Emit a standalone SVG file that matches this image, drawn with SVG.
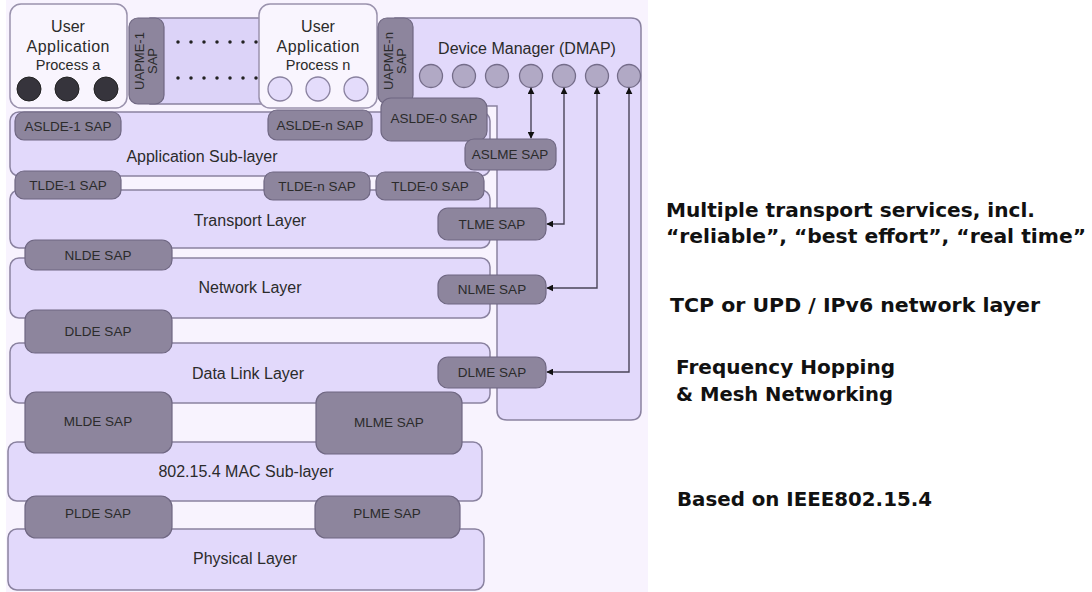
<svg xmlns="http://www.w3.org/2000/svg" width="1092" height="592" viewBox="0 0 1092 592">
<defs>
<style>
.layer{fill:#e2d9fb;stroke:#8a82a0;stroke-width:1.5}
.sap{fill:#8d859d;stroke:#6f6782;stroke-width:1.2}
.proc{fill:#f9f5fe;stroke:#9a92ad;stroke-width:1.5}
.t{font-family:"Liberation Sans",Arial,sans-serif;fill:#2b2b2b;text-anchor:middle}
.lt{font-size:16px}
.st{font-size:13.5px}
.pt{font-size:14.5px}
.rt{font-family:"DejaVu Sans",Verdana,sans-serif;font-weight:bold;font-size:19px;fill:#111}
.dot{stroke:#222;stroke-width:3.5;stroke-dasharray:0 13;stroke-linecap:round}
.conn{fill:none;stroke:#4a4458;stroke-width:1.4}
</style>
<marker id="ah" viewBox="0 0 10 10" refX="9" refY="5" markerWidth="7" markerHeight="7" markerUnits="userSpaceOnUse" orient="auto-start-reverse">
<path d="M0,0 L10,5 L0,10 Z" fill="#111"/>
</marker>
</defs>
<rect x="6" y="0" width="642" height="592" fill="#f8f3fe"/>
<rect x="0" y="0" width="6" height="592" fill="#ffffff"/>

<g id="device-manager">
<path class="layer" d="M395,18 H631 Q641,18 641,28 V410 Q641,420 631,420 H507 Q497,420 497,410 V106 H395 Z"/>
<text class="t lt" x="527" y="54">Device Manager (DMAP)</text>
<g fill="#b1a9c5" stroke="#756d8a" stroke-width="1.3">
<circle cx="431" cy="76" r="11.5"/><circle cx="464" cy="76" r="11.5"/><circle cx="497" cy="76" r="11.5"/><circle cx="531" cy="76" r="11.5"/><circle cx="564" cy="76" r="11.5"/><circle cx="597" cy="76" r="11.5"/><circle cx="629" cy="76" r="11.5"/>
</g>
</g>

<g id="uap-strip">
<rect x="150" y="18" width="120" height="86" fill="#dcd3f8" stroke="#8a82a0" stroke-width="1.5"/>
<line class="dot" x1="178" y1="42" x2="257" y2="42"/>
<line class="dot" x1="178" y1="78" x2="257" y2="78"/>
</g>

<g id="uap-a">
<rect class="proc" x="10" y="4" width="117" height="104" rx="11"/>
<text class="t lt" x="68" y="32">User</text>
<text class="t lt" x="68" y="52" textLength="83">Application</text>
<text class="t pt" x="68" y="70">Process a</text>
<g fill="#36343c" stroke="#222" stroke-width="1"><circle cx="29" cy="89" r="12"/><circle cx="67" cy="89" r="12"/><circle cx="106" cy="89" r="12"/></g>
</g>
<g id="uapme-1">
<rect class="sap" x="129" y="18" width="35" height="86" rx="9"/>
<text class="t" font-size="13" transform="translate(144,61) rotate(-90)">UAPME-1</text>
<text class="t" font-size="13" transform="translate(157,61) rotate(-90)">SAP</text>
</g>
<g id="uap-n">
<rect class="proc" x="259" y="4" width="118" height="104" rx="11"/>
<text class="t lt" x="318" y="32">User</text>
<text class="t lt" x="318" y="52" textLength="83">Application</text>
<text class="t pt" x="318" y="70">Process n</text>
<g fill="#e4dcfb" stroke="#8a82a0" stroke-width="1.3"><circle cx="280" cy="89" r="12"/><circle cx="318" cy="89" r="12"/><circle cx="356" cy="89" r="12"/></g>
</g>
<g id="uapme-n">
<rect class="sap" x="378" y="18" width="35" height="86" rx="9"/>
<text class="t" font-size="13" transform="translate(393,61) rotate(-90)">UAPME-n</text>
<text class="t" font-size="13" transform="translate(406,61) rotate(-90)">SAP</text>
</g>

<g id="app-sublayer">
<rect class="layer" x="10" y="112" width="480" height="64" rx="9"/>
<text class="t lt" x="202" y="162">Application Sub-layer</text>
</g>
<g id="aslde-1"><rect class="sap" x="15" y="112" width="106" height="28" rx="9"/><text class="t st" x="68" y="131">ASLDE-1 SAP</text></g>
<g id="aslde-n"><rect class="sap" x="268" y="110" width="104" height="30" rx="9"/><text class="t st" x="320" y="130">ASLDE-n SAP</text></g>
<g id="aslde-0"><rect class="sap" x="381" y="98" width="106" height="43" rx="10"/><text class="t st" x="434" y="123">ASLDE-0 SAP</text></g>
<g id="aslme"><rect class="sap" x="465" y="139" width="91" height="31" rx="9"/><text class="t st" x="510" y="159">ASLME SAP</text></g>

<g id="transport-layer">
<rect class="layer" x="10" y="190" width="480" height="58" rx="9"/>
<text class="t lt" x="250" y="226">Transport Layer</text>
</g>
<g id="tlde-1"><rect class="sap" x="15" y="171" width="106" height="28" rx="9"/><text class="t st" x="68" y="190">TLDE-1 SAP</text></g>
<g id="tlde-n"><rect class="sap" x="264" y="172" width="106" height="28" rx="9"/><text class="t st" x="317" y="191">TLDE-n SAP</text></g>
<g id="tlde-0"><rect class="sap" x="376" y="172" width="108" height="28" rx="9"/><text class="t st" x="430" y="191">TLDE-0 SAP</text></g>
<g id="tlme"><rect class="sap" x="438" y="208" width="108" height="32" rx="10"/><text class="t st" x="492" y="229">TLME SAP</text></g>

<g id="network-layer">
<rect class="layer" x="10" y="258" width="480" height="60" rx="9"/>
<text class="t lt" x="250" y="293">Network Layer</text>
</g>
<g id="nlde"><rect class="sap" x="25" y="240" width="147" height="30" rx="10"/><text class="t st" x="98" y="260">NLDE SAP</text></g>
<g id="nlme"><rect class="sap" x="438" y="275" width="108" height="29" rx="10"/><text class="t st" x="492" y="294">NLME SAP</text></g>

<g id="datalink-layer">
<rect class="layer" x="10" y="343" width="480" height="60" rx="9"/>
<text class="t lt" x="248" y="379">Data Link Layer</text>
</g>
<g id="dlde"><rect class="sap" x="25" y="310" width="147" height="43" rx="10"/><text class="t st" x="98" y="336">DLDE SAP</text></g>
<g id="dlme"><rect class="sap" x="438" y="357" width="108" height="31" rx="10"/><text class="t st" x="492" y="377">DLME SAP</text></g>

<g id="mac-sublayer">
<rect class="layer" x="8" y="442" width="474" height="59" rx="9"/>
<text class="t lt" x="246" y="477">802.15.4 MAC Sub-layer</text>
</g>
<g id="mlde"><rect class="sap" x="25" y="392" width="147" height="61" rx="11"/><text class="t st" x="98" y="426">MLDE SAP</text></g>
<g id="mlme"><rect class="sap" x="316" y="392" width="146" height="62" rx="11"/><text class="t st" x="389" y="427">MLME SAP</text></g>

<g id="physical-layer">
<rect class="layer" x="8" y="529" width="476" height="61" rx="9"/>
<text class="t lt" x="245" y="564">Physical Layer</text>
</g>
<g id="plde"><rect class="sap" x="25" y="496" width="147" height="42" rx="11"/><text class="t st" x="98" y="518">PLDE SAP</text></g>
<g id="plme"><rect class="sap" x="315" y="496" width="145" height="42" rx="11"/><text class="t st" x="387" y="518">PLME SAP</text></g>

<g id="connectors">
<path class="conn" d="M531,138 V88" marker-start="url(#ah)" marker-end="url(#ah)"/>
<path class="conn" d="M547,224 H564 V88" marker-start="url(#ah)" marker-end="url(#ah)"/>
<path class="conn" d="M547,288 H597 V88" marker-start="url(#ah)" marker-end="url(#ah)"/>
<path class="conn" d="M547,372 H629 V88" marker-start="url(#ah)" marker-end="url(#ah)"/>
</g>

<g id="notes">
<text class="rt" x="666" y="217" textLength="369" lengthAdjust="spacingAndGlyphs">Multiple transport services, incl.</text>
<text class="rt" x="666" y="243" textLength="420" lengthAdjust="spacingAndGlyphs">“reliable”, “best effort”, “real time”</text>
<text class="rt" x="670" y="312" textLength="370" lengthAdjust="spacingAndGlyphs">TCP or UPD / IPv6 network layer</text>
<text class="rt" x="676" y="374" textLength="219" lengthAdjust="spacingAndGlyphs">Frequency Hopping</text>
<text class="rt" x="676" y="401" textLength="217" lengthAdjust="spacingAndGlyphs">&amp; Mesh Networking</text>
<text class="rt" x="677" y="506" textLength="255" lengthAdjust="spacingAndGlyphs">Based on IEEE802.15.4</text>
</g>
</svg>
